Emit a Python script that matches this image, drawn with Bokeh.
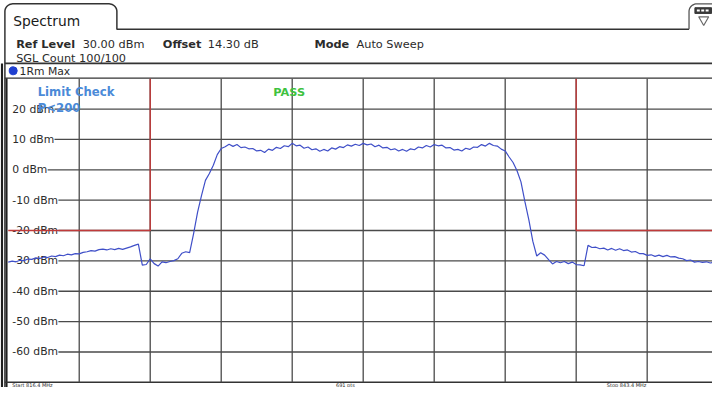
import numpy as np
from bokeh.plotting import figure
from bokeh.models import Range1d
from bokeh.embed import file_html
from bokeh.resources import INLINE
from bokeh.core.properties import value

# ---------------- data ----------------
START_MHZ = 816.4
STOP_MHZ = 843.4
N_DIV = 10
REF_LEVEL_DBM = 30
BOTTOM_LEVEL_DBM = -70

# trace levels (dBm), one per sweep point from START_MHZ to STOP_MHZ
LEVELS_DBM = [
    -30.4, -30.1, -30.3, -29.8, -29.9, -29.4, -29.5, -29.0, -29.2, -28.7,
    -28.9, -28.4, -28.6, -28.1, -28.3, -27.8, -28.0, -27.6, -27.7, -27.2,
    -27.0, -26.6, -26.8, -26.3, -26.1, -26.4, -26.0, -26.3, -25.9, -26.2,
    -25.8, -25.4, -24.9, -24.5, -31.4, -31.2, -29.3, -30.9, -31.7, -30.3,
    -30.6, -30.2, -29.9, -29.3, -27.5, -27.0, -27.3, -21.0, -14.0, -8.5,
    -3.5, -1.2, 1.5, 5.0, 7.0, 7.6, 8.4, 7.7, 8.3, 7.3,
    7.5, 6.9, 7.0, 6.2, 6.4, 5.7, 6.8, 6.4, 7.4, 7.0,
    7.9, 7.6, 8.7, 7.9, 8.1, 7.1, 7.5, 6.6, 6.9, 6.1,
    6.7, 6.2, 7.2, 6.8, 7.6, 7.3, 8.2, 7.8, 8.4, 8.0,
    8.7, 8.2, 8.5, 7.6, 8.1, 7.2, 7.4, 6.6, 6.9, 6.2,
    6.7, 6.1, 6.9, 6.6, 7.5, 7.2, 8.0, 7.5, 8.3, 7.9,
    8.1, 7.2, 7.3, 6.5, 6.7, 6.2, 7.1, 6.7, 7.5, 7.4,
    8.3, 7.8, 8.7, 8.0, 7.8, 6.8, 6.2, 4.2, 2.4, -0.3,
    -4.0, -10.5, -16.5, -23.5, -28.4, -27.3, -28.1, -29.6, -31.0, -30.2,
    -30.6, -30.2, -30.9, -30.4, -31.2, -31.3, -31.6, -24.9, -25.6, -25.5,
    -26.0, -25.8, -26.4, -25.9, -26.5, -26.0, -26.6, -26.4, -27.1, -26.9,
    -27.6, -27.6, -28.2, -28.0, -28.5, -28.1, -28.6, -28.2, -28.7, -28.6,
    -29.1, -29.3, -29.9, -29.7, -30.4, -30.2, -30.5, -30.3, -30.7, -30.4,
    -30.7,
]
FREQS_MHZ = np.linspace(START_MHZ, STOP_MHZ, len(LEVELS_DBM))

TICK_LEVELS = [20, 10, 0, -10, -20, -30, -40, -50, -60]
TICK_LABELS = ["20 dBm", "10 dBm", "0 dBm", "-10 dBm", "-20 dBm",
               "-30 dBm", "-40 dBm", "-50 dBm", "-60 dBm"]

# limit mask
LIMIT_LEFT_MHZ = [START_MHZ, 821.8, 821.8]
LIMIT_LEFT_DBM = [-20, -20, 30]
LIMIT_RIGHT_MHZ = [838.0, 838.0, STOP_MHZ]
LIMIT_RIGHT_DBM = [30, -20, -20]

HEADER_BOLD = ["Ref Level", "Offset", "Mode"]
HEADER_VALUES = ["30.00 dBm", "14.30 dB", "Auto Sweep"]
FOOTER = ["Start 816.4 MHz", "691 pts", "Stop 843.4 MHz"]

# ---------------- geometry (reference pixels, 728 x 403) ----------------
X0_PX = 7.9          # x of start frequency
DIV_PX = 72.59       # pixels per horizontal division
Y0_PX = 81.4         # y of reference level
DIVY_PX = 31.625     # pixels per 10 dB
REF_W, REF_H = 728, 403
W, H = 712, 387

def px_to_mhz(px):
    return START_MHZ + (px - X0_PX) / DIV_PX * (STOP_MHZ - START_MHZ) / N_DIV

def py_to_dbm(py):
    return REF_LEVEL_DBM - (py - Y0_PX) / DIVY_PX * 10

FONT = value("DejaVu Sans")
GRID = "#4a4a4a"
TXT = "#2b2b2b"
BORDER = "#333333"

p = figure(width=W, height=H, output_backend="svg", toolbar_location=None,
           x_range=Range1d(0, REF_W), y_range=Range1d(REF_H, 0),
           x_axis_location=None, y_axis_location=None, min_border=0,
           background_fill_color="white", border_fill_color="white")
p.outline_line_color = None
p.grid.visible = False
p.extra_x_ranges = {"f": Range1d(px_to_mhz(0), px_to_mhz(REF_W))}
p.extra_y_ranges = {"d": Range1d(py_to_dbm(REF_H), py_to_dbm(0))}
D = dict(x_range_name="f", y_range_name="d")

# ---------------- frame / tabs ----------------
t = np.linspace(0, np.pi / 2, 12)
r = 8
top = 3.5
# Spectrum tab + panel left edge
tab_x = [4.5, 4.5] + list(4.5 + r - r * np.cos(t)) + [119 - r] + \
        list(119 - r + r * np.sin(t)) + [119, 119, 704]
tab_y = [REF_H, top + r] + list(top + r - r * np.sin(t)) + [top] + \
        list(top + r - r * np.cos(t)) + [top + r, 30, 30]
p.line(tab_x, tab_y, line_color=BORDER, line_width=1.5)
# icon tab
ic_x = [704, 704] + list(704 + r - r * np.cos(t)) + [REF_W]
ic_y = [30, top + r] + list(top + r - r * np.sin(t)) + [top]
p.line(ic_x, ic_y, line_color="#555555", line_width=1.3)
p.quad(left=[710], right=[727], top=[7.5], bottom=[13.5], fill_color="#3a3a3a",
       line_color="#3a3a3a")
p.quad(left=[712, 716.5, 721], right=[715, 719.5, 724], top=[9.5] * 3,
       bottom=[11.5] * 3, fill_color="white", line_color=None)
p.scatter([719], [20], marker="inverted_triangle", size=10, fill_color=None,
          line_color="#6a6a6a", line_width=1.2)

p.segment([4.5], [65.5], [REF_W], [65.5], line_color=BORDER, line_width=1.7)
p.segment([1.5], [65.5], [1.5], [REF_H], line_color="#202020", line_width=2.2)
p.segment([6.2], [81], [6.2], [REF_H], line_color="#202020", line_width=2.0)
p.segment([4.5], [80.8], [REF_W], [80.8], line_color=BORDER, line_width=1.4)
p.segment([4.5], [397.6], [REF_W], [397.6], line_color=BORDER, line_width=1.4)

p.text(x=[13], y=[21.5], text=["Spectrum"], text_font=FONT, text_font_size="13.8px",
       text_color="#1a1a1a", text_baseline="alphabetic")
p.text(x=[16, 166, 321], y=[45.5] * 3, text=HEADER_BOLD,
       text_font=FONT, text_font_size="11.3px", text_font_style="bold",
       text_color=TXT, text_baseline="alphabetic")
p.text(x=[84, 212, 364], y=[45.5] * 3, text=HEADER_VALUES,
       text_font=FONT, text_font_size="11.3px",
       text_color=TXT, text_baseline="alphabetic")
p.text(x=[16], y=[60.5], text=["SGL Count 100/100"],
       text_font=FONT, text_font_size="11.3px",
       text_color=TXT, text_baseline="alphabetic")
p.scatter([13], [73.2], size=8, color="#1f3fd0")
p.text(x=[19.5], y=[73.5], text=["1Rm Max"], text_font=FONT, text_font_size="10.8px",
       text_color=TXT, text_baseline="middle")

# ---------------- grid ----------------
div_mhz = [START_MHZ + k * (STOP_MHZ - START_MHZ) / N_DIV for k in range(1, N_DIV)]
p.segment(div_mhz, [REF_LEVEL_DBM] * len(div_mhz), div_mhz,
          [BOTTOM_LEVEL_DBM] * len(div_mhz), line_color=GRID, line_width=1.3, **D)

CW = {" ": 3.5, "-": 4.0, "d": 7.0, "B": 7.5, "m": 10.7}
LABEL_X_PX = 12
starts = [px_to_mhz(LABEL_X_PX + sum(CW.get(c, 7.0) for c in s) + 0.5)
          for s in TICK_LABELS]
p.segment(starts, TICK_LEVELS, [px_to_mhz(REF_W)] * len(starts), TICK_LEVELS,
          line_color=GRID, line_width=1.3, **D)
p.text(x=[px_to_mhz(LABEL_X_PX)] * len(TICK_LEVELS), y=TICK_LEVELS, text=TICK_LABELS,
       text_font=FONT, text_font_size="10.8px", text_color=TXT,
       text_baseline="middle", **D)

# ---------------- limit line ----------------
p.line(LIMIT_LEFT_MHZ, LIMIT_LEFT_DBM, line_color="#c03a3a", line_width=1.4, **D)
p.line(LIMIT_RIGHT_MHZ, LIMIT_RIGHT_DBM, line_color="#c03a3a", line_width=1.4, **D)

# ---------------- trace ----------------
p.line(FREQS_MHZ, LEVELS_DBM, line_color="#3f4fc8", line_width=1.2, **D)

# ---------------- limit check texts ----------------
p.text(x=[38, 38], y=[95.5, 111.5], text=["Limit Check", "P<200"],
       text_font=FONT, text_font_size="11.7px", text_font_style="bold",
       text_color="#4a8ad8", text_baseline="alphabetic")
p.text(x=[279], y=[95.5], text=["PASS"], text_font=FONT, text_font_size="11.3px",
       text_font_style="bold", text_color="#3fc23f", text_baseline="alphabetic")

# ---------------- footer (tiny strip below the diagram) ----------------
p.text(x=[12, 343, 620], y=[400.6] * 3, text=FOOTER, text_font=FONT,
       text_font_size="5px", text_color=TXT, text_baseline="middle")

open("out.html", "w").write(file_html(p, INLINE))
